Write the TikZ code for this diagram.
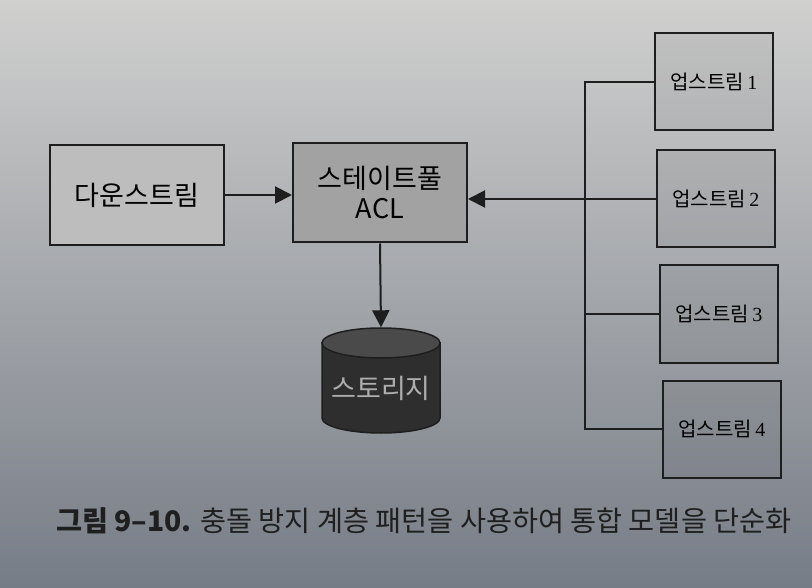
\documentclass[tikz,border=0pt]{standalone}
\usepackage{fontspec}
\setmainfont{Noto Sans CJK KR}
\newfontfamily\digitfont{Liberation Serif}
\usetikzlibrary{arrows.meta}
\definecolor{ink}{HTML}{1E1E1E}
\definecolor{aclfill}{HTML}{A2A2A2}
\definecolor{downfill}{HTML}{BDBDBD}
\definecolor{cyldark}{HTML}{2E2E2E}
\definecolor{cyltop}{HTML}{4A4A4A}
\definecolor{cyltext}{HTML}{AEAEAE}
\tikzset{
  boxline/.style={draw=ink, line width=2pt},
  upbox/.style={boxline, fill=black, fill opacity=0.05, text opacity=1,
    minimum width=118pt, minimum height=97pt, inner sep=0pt,
    font=\fontsize{20}{24}\selectfont},
  wire/.style={draw=ink, line width=2pt},
  arr/.style={wire, -{Triangle[length=17pt,width=17pt]}},
  bigtext/.style={font=\fontsize{27}{30}\selectfont},
}
\begin{document}
\begin{tikzpicture}[x=1pt,y=-1pt]
\useasboundingbox (0,0) rectangle (812,588);
\shade[top color={rgb,255:red,208;green,208;blue,207}, middle color={rgb,255:red,180;green,182;blue,184}, bottom color={rgb,255:red,118;green,124;blue,134}] (0,0) rectangle (812,588);

% downstream
\node[boxline, fill=downfill, minimum width=174pt, minimum height=100pt, inner sep=0pt,
  bigtext] (down) at (137,195) {다운스트림};
% stateful ACL
\node[boxline, fill=aclfill, minimum width=174pt, minimum height=99pt, inner sep=0pt,
  align=center, bigtext] (acl) at (380,193) {스테이트풀\\ACL};

% storage
\node[minimum width=118pt, minimum height=105pt, inner sep=0pt] (stor) at (381,380) {};
\draw[draw=ink, line width=1.5pt, fill=cyldark] (322,343) -- (322,418) arc[start angle=180, end angle=0, x radius=59, y radius=15] -- (440,343) -- cycle;
\draw[draw=ink, line width=1.5pt, fill=cyltop] (381,343) ellipse[x radius=59, y radius=15];
\node[text=cyltext, bigtext] (stortext) at (381,388) {스토리지};

% upstreams
\node[upbox] (u1) at (714,82) {업스트림\,{\digitfont 1}};
\node[upbox] (u2) at (716,199) {업스트림\,{\digitfont 2}};
\node[upbox] (u3) at (719,314) {업스트림\,{\digitfont 3}};
\node[upbox] (u4) at (722,429) {업스트림\,{\digitfont 4}};

\coordinate (j1) at (585,82);
\coordinate (j3) at (585,314);
\coordinate (j4) at (585,429);
\draw[wire] (u1.west) -- (j1) -- (j4) -- (u4.west);
\draw[wire] (u3.west) -- (j3);
\draw[arr] (u2.west) -- (u2.west -| acl.east);

\draw[arr] (down.east) -- (down.east -| acl.west);
\draw[arr] (acl.south) -- (stor.north);

% caption
\node[anchor=west, inner sep=0pt, text=black!88, font=\fontsize{28.3}{32}\selectfont] (cap) at (56,521)
  {{\bfseries 그림 9–10.} 충돌 방지 계층 패턴을 사용하여 통합 모델을 단순화};
\end{tikzpicture}
\end{document}
